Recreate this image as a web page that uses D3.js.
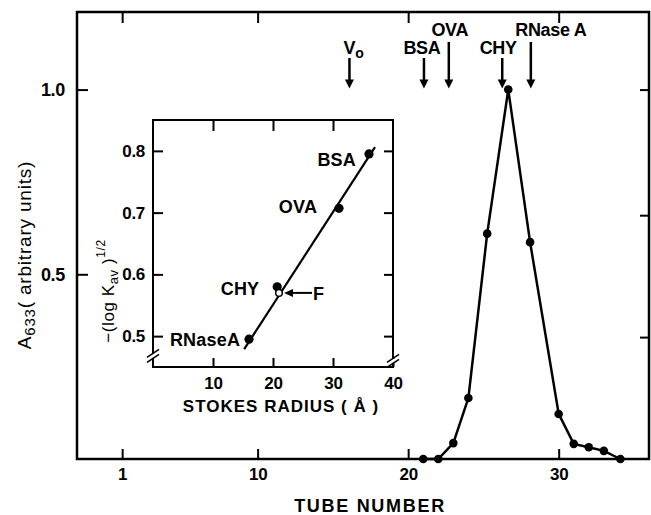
<!DOCTYPE html>
<html>
<head>
<meta charset="utf-8">
<script src="https://cdn.jsdelivr.net/npm/d3@7"></script>
<style>
body{margin:0;background:#fff;}
svg{display:block;font-family:"Liberation Sans",Arial,sans-serif;}
</style>
</head>
<body>
<div id="chart"></div>
<script>
"use strict";
var w = 651;
var h = 515;

// elution profile (main plot)
var tubes  = [21, 22, 23, 24, 25.25, 26.65, 28.1, 30, 31, 32, 33, 34.1];
var absorb = [0, 0, 0.043, 0.165, 0.61, 1.0, 0.587, 0.122, 0.041, 0.032, 0.022, 0];

// elution positions of the markers (arrows)
var markerNames = ["Vo", "BSA", "OVA", "CHY", "RNase A"];
var markerTubes = [16.1, 21.05, 22.7, 26.25, 28.15];

var tubeTicks = [1, 10, 20, 30];
var absTicks = [0.5, 1.0];
var rightTicks = [0.33, 0.66, 1.0];

// inset: calibration with standards
var stdNames = ["BSA", "OVA", "CHY", "RNaseA"];
var stdRadius = [36, 31, 20.7, 16];
var stdKav = [0.795, 0.707, 0.58, 0.495];
var unknownName = "F";
var unknownRadius = 21;
var unknownKav = 0.57;
var fitRadius = [15.2, 37];
var fitKav = [0.479, 0.806];
var radiusTicks = [10, 20, 30, 40];
var kavTicks = [0.5, 0.6, 0.7, 0.8];

function init() {
    draw();
}
window.onload = init;

function styleAxis(g, lw, fs) {
    g.select(".domain").remove();
    g.selectAll(".tick line").attr("stroke", "#000").attr("stroke-width", lw);
    g.selectAll(".tick text")
        .attr("fill", "#000")
        .style("font-size", fs + "px")
        .style("font-weight", "bold")
        .style("letter-spacing", "-0.3px");
}

function arrowDown(g, xp, y0, y1, lw) {
    g.append("line")
        .attr("x1", xp).attr("x2", xp)
        .attr("y1", y0).attr("y2", y1 - 6)
        .attr("stroke", "#000").attr("stroke-width", lw);
    g.append("path")
        .attr("d", "M" + (xp - 4.5) + "," + (y1 - 9) + "L" + (xp + 4.5) + "," + (y1 - 9) + "L" + xp + "," + y1 + "Z")
        .attr("fill", "#000");
}

function draw() {
    var svg = d3.select("#chart")
        .append("svg")
        .attr("width", w)
        .attr("height", h);

    var x = d3.scaleLinear().domain([-2, 36]).range([77, 649]);
    var y = d3.scaleLinear().domain([0, 1.21]).range([459, 12]);

    // frame
    svg.append("rect")
        .attr("x", x(-2)).attr("y", y(1.21))
        .attr("width", x(36) - x(-2)).attr("height", y(0) - y(1.21))
        .attr("fill", "none").attr("stroke", "#000").attr("stroke-width", 2.5);

    var gb = svg.append("g").attr("transform", "translate(0," + y(0) + ")")
        .call(d3.axisBottom(x).tickValues(tubeTicks).tickSizeInner(-10).tickSizeOuter(0).tickPadding(9));
    styleAxis(gb, 2, 17);
    var gt = svg.append("g").attr("transform", "translate(0," + y(1.21) + ")")
        .call(d3.axisTop(x).tickValues(tubeTicks).tickSizeInner(-11).tickSizeOuter(0).tickFormat(""));
    styleAxis(gt, 2, 17);
    var gl = svg.append("g").attr("transform", "translate(" + x(-2) + ",0)")
        .call(d3.axisLeft(y).tickValues(absTicks).tickSizeInner(-11).tickSizeOuter(0).tickPadding(12).tickFormat(d3.format(".1f")));
    styleAxis(gl, 2, 18);
    var gr = svg.append("g").attr("transform", "translate(" + x(36) + ",0)")
        .call(d3.axisRight(y).tickValues(rightTicks).tickSizeInner(-9).tickSizeOuter(0).tickFormat(""));
    styleAxis(gr, 2, 17);

    // profile
    var pts = tubes.map(function(t, i){ return [t, absorb[i]]; });
    var line = d3.line().x(function(d){ return x(d[0]); }).y(function(d){ return y(d[1]); });
    svg.append("path").datum(pts)
        .attr("d", line)
        .attr("fill", "none").attr("stroke", "#000").attr("stroke-width", 2.5);
    svg.selectAll(".pt").data(pts).enter()
        .append("circle").attr("class", "pt")
        .attr("cx", function(d){ return x(d[0]); })
        .attr("cy", function(d){ return y(d[1]); })
        .attr("r", 4.3).attr("fill", "#000");

    // marker arrows
    var tall = [false, false, true, false, true];
    var labelDx = [4, -2, 1, -4, 20];
    var ga = svg.append("g");
    markerTubes.forEach(function(t, i){
        var xp = x(t);
        arrowDown(ga, xp, tall[i] ? 42 : 58, y(1.0) - 1, 2.5);
        var tx = ga.append("text")
            .attr("x", xp + labelDx[i])
            .attr("y", tall[i] ? 36 : 54)
            .attr("text-anchor", "middle")
            .style("font-size", "18px")
            .style("font-weight", "bold")
            .style("letter-spacing", "-0.3px");
        if (markerNames[i] == "Vo") {
            tx.text("V");
            tx.append("tspan").attr("dy", 4).style("font-size", "14px").text("o");
        } else {
            tx.text(markerNames[i]);
        }
    });

    // axis titles
    var yl = svg.append("text")
        .attr("transform", "translate(31,255) rotate(-90)")
        .attr("text-anchor", "middle")
        .style("font-size", "19px")
        .style("font-weight", "500")
        .style("letter-spacing", "0.8px")
        .text("A");
    yl.append("tspan").attr("dy", 4).style("font-size", "15px").text("633");
    yl.append("tspan").attr("dy", -4).text("( arbitrary units)");

    svg.append("text")
        .attr("x", 370).attr("y", 512)
        .attr("text-anchor", "middle")
        .style("font-size", "18px")
        .style("font-weight", "bold")
        .style("letter-spacing", "1.7px")
        .text("TUBE NUMBER");

    // ---- inset ----
    var ix = d3.scaleLinear().domain([0, 40]).range([153, 393]);
    var iy = d3.scaleLinear().domain([0.45, 0.85]).range([367, 120]);
    var gi = svg.append("g");

    gi.append("rect")
        .attr("x", ix(0)).attr("y", iy(0.85))
        .attr("width", ix(40) - ix(0)).attr("height", iy(0.45) - iy(0.85))
        .attr("fill", "#fff").attr("stroke", "#000").attr("stroke-width", 2);

    var ib = gi.append("g").attr("transform", "translate(0," + iy(0.45) + ")")
        .call(d3.axisBottom(ix).tickValues(radiusTicks).tickSizeInner(-9).tickSizeOuter(0).tickPadding(10));
    styleAxis(ib, 2, 17);
    var it = gi.append("g").attr("transform", "translate(0," + iy(0.85) + ")")
        .call(d3.axisTop(ix).tickValues(radiusTicks.slice(0, 3)).tickSizeInner(-11).tickSizeOuter(0).tickFormat(""));
    styleAxis(it, 2, 17);
    var il = gi.append("g").attr("transform", "translate(" + ix(0) + ",0)")
        .call(d3.axisLeft(iy).tickValues(kavTicks).tickSizeInner(-10).tickSizeOuter(0).tickPadding(8).tickFormat(d3.format(".1f")));
    styleAxis(il, 2, 17);
    var ir = gi.append("g").attr("transform", "translate(" + ix(40) + ",0)")
        .call(d3.axisRight(iy).tickValues(kavTicks).tickSizeInner(-9).tickSizeOuter(0).tickFormat(""));
    styleAxis(ir, 2, 17);

    // axis breaks
    [[ix(0), iy(0.468)], [ix(40), iy(0.46)]].forEach(function(p){
        gi.append("rect").attr("x", p[0] - 2).attr("y", p[1] - 2).attr("width", 4).attr("height", 4).attr("fill", "#fff");
        [-2.5, 2.5].forEach(function(o){
            gi.append("line")
                .attr("x1", p[0] - 6).attr("y1", p[1] + o + 4)
                .attr("x2", p[0] + 6).attr("y2", p[1] + o - 4)
                .attr("stroke", "#000").attr("stroke-width", 1.5);
        });
    });

    // calibration line
    gi.append("line")
        .attr("x1", ix(fitRadius[0])).attr("y1", iy(fitKav[0]))
        .attr("x2", ix(fitRadius[1])).attr("y2", iy(fitKav[1]))
        .attr("stroke", "#000").attr("stroke-width", 2.2);

    gi.selectAll(".std").data(stdNames).enter()
        .append("circle").attr("class", "std")
        .attr("cx", function(d, i){ return ix(stdRadius[i]); })
        .attr("cy", function(d, i){ return iy(stdKav[i]); })
        .attr("r", 4.6).attr("fill", "#000");

    gi.append("circle")
        .attr("cx", ix(unknownRadius)).attr("cy", iy(unknownKav))
        .attr("r", 3.3).attr("fill", "#fff").attr("stroke", "#000").attr("stroke-width", 1.5);

    var stdLabelPos = [[356, 166], [298, 213], [240, 295], [205, 346]];
    gi.selectAll(".stdl").data(stdNames).enter()
        .append("text").attr("class", "stdl")
        .attr("x", function(d, i){ return stdLabelPos[i][0]; })
        .attr("y", function(d, i){ return stdLabelPos[i][1]; })
        .attr("text-anchor", function(d, i){ return i == 0 ? "end" : "middle"; })
        .style("font-size", "18px")
        .style("font-weight", "bold")
        .style("letter-spacing", "0.2px")
        .text(function(d){ return d; });

    // F arrow
    var fy = iy(unknownKav);
    gi.append("line")
        .attr("x1", ix(unknownRadius) + 12).attr("x2", 312)
        .attr("y1", fy).attr("y2", fy)
        .attr("stroke", "#000").attr("stroke-width", 2);
    gi.append("path")
        .attr("d", "M" + (ix(unknownRadius) + 5) + "," + fy + "L" + (ix(unknownRadius) + 14) + "," + (fy - 4) + "L" + (ix(unknownRadius) + 14) + "," + (fy + 4) + "Z")
        .attr("fill", "#000");
    gi.append("text")
        .attr("x", 313).attr("y", fy + 7)
        .style("font-size", "18px").style("font-weight", "bold")
        .text(unknownName);

    gi.append("text")
        .attr("x", 281).attr("y", 412)
        .attr("text-anchor", "middle")
        .style("font-size", "17px")
        .style("font-weight", "bold")
        .style("letter-spacing", "1px")
        .text("STOKES RADIUS ( \u00C5 )");

    var iyl = gi.append("text")
        .attr("transform", "translate(114,291) rotate(-90)")
        .attr("text-anchor", "middle")
        .style("font-size", "17px")
        .style("font-weight", "500")
        .style("letter-spacing", "0.6px")
        .text("\u2212(log K");
    iyl.append("tspan").attr("dy", 4).style("font-size", "13px").text("av");
    iyl.append("tspan").attr("dy", -4).text(" )");
    iyl.append("tspan").attr("dy", -9).style("font-size", "12px").text("1/2");
}
</script>
</body>
</html>
